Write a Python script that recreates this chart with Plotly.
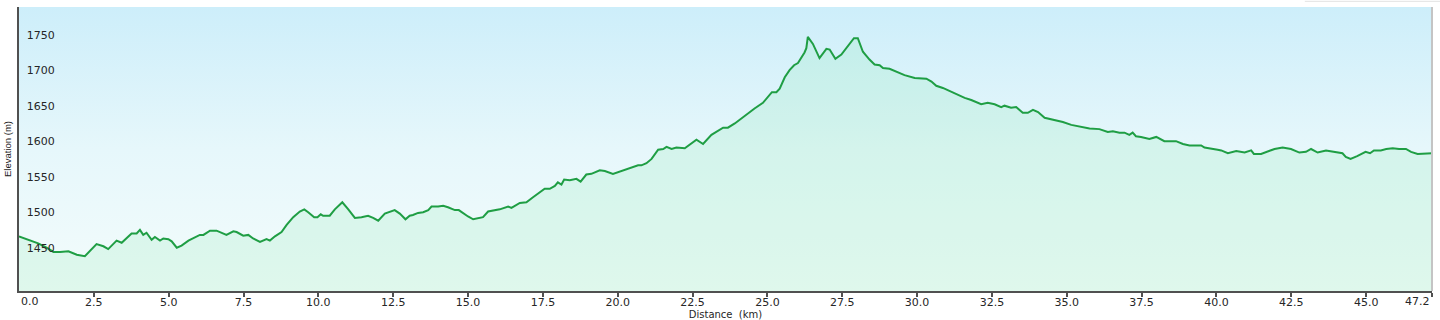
import plotly.graph_objects as go

# ---- data ----
distance_km = [
    0.0, 0.31, 0.64, 0.92, 1.15, 1.37, 1.65, 1.93, 2.2, 2.59, 2.82, 2.98, 3.26, 3.43, 3.76, 3.93,
    4.04, 4.15, 4.26, 4.43, 4.54, 4.71, 4.82, 4.99, 5.1, 5.27, 5.43, 5.66, 5.93, 6.04, 6.16, 6.38,
    6.6, 6.71, 6.93, 7.16, 7.27, 7.49, 7.66, 7.82, 8.05, 8.27, 8.38, 8.55, 8.77, 8.94, 9.16, 9.38,
    9.53, 9.66, 9.86, 9.97, 10.08, 10.16, 10.38, 10.55, 10.8, 11.0, 11.22, 11.44, 11.66, 11.83,
    12.0, 12.22, 12.39, 12.55, 12.72, 12.91, 13.05, 13.16, 13.33, 13.5, 13.67, 13.78, 14.0, 14.17,
    14.33, 14.56, 14.69, 14.84, 15.0, 15.17, 15.34, 15.5, 15.67, 15.84, 16.06, 16.34, 16.45, 16.73,
    16.95, 17.17, 17.4, 17.56, 17.73, 17.9, 18.0, 18.12, 18.21, 18.4, 18.62, 18.76, 18.95, 19.12,
    19.4, 19.57, 19.84, 20.18, 20.46, 20.68, 20.79, 20.96, 21.13, 21.35, 21.52, 21.63, 21.8, 21.96,
    22.24, 22.4, 22.63, 22.85, 23.13, 23.52, 23.68, 23.91, 24.13, 24.35, 24.57, 24.85, 25.02, 25.15,
    25.3, 25.41, 25.58, 25.74, 25.89, 26.02, 26.24, 26.3, 26.35, 26.52, 26.74, 26.97, 27.08, 27.27,
    27.47, 27.69, 27.89, 28.02, 28.19, 28.41, 28.58, 28.75, 28.86, 29.08, 29.58, 29.92, 30.31, 30.48,
    30.64, 30.86, 31.25, 31.59, 31.81, 32.0, 32.14, 32.36, 32.59, 32.81, 32.92, 33.14, 33.31, 33.53,
    33.7, 33.87, 34.04, 34.26, 34.59, 34.87, 35.15, 35.48, 35.76, 36.09, 36.37, 36.54, 36.76, 36.93,
    37.09, 37.2, 37.31, 37.48, 37.76, 37.99, 38.26, 38.65, 38.88, 39.1, 39.49, 39.6, 39.82, 40.04,
    40.16, 40.38, 40.66, 40.94, 41.16, 41.25, 41.49, 41.71, 41.94, 42.21, 42.49, 42.77, 42.99, 43.16,
    43.38, 43.66, 43.94, 44.21, 44.32, 44.48, 44.7, 44.98, 45.13, 45.26, 45.49, 45.67, 45.89, 46.1,
    46.33, 46.5, 46.72, 46.95, 47.2,
]
elevation_m = [
    1477, 1472, 1467, 1461, 1455, 1455, 1456, 1451, 1449, 1466, 1463, 1459, 1471, 1468, 1481, 1481,
    1486, 1479, 1482, 1472, 1476, 1471, 1474, 1473, 1470, 1461, 1464, 1471, 1477, 1479, 1479, 1485,
    1485, 1483, 1479, 1484, 1483, 1478, 1479, 1474, 1469, 1473, 1471, 1477, 1483, 1493, 1504, 1512,
    1515, 1511, 1504, 1504, 1508, 1506, 1506, 1515, 1525, 1515, 1503, 1504, 1506, 1503,
    1499, 1509, 1512, 1514, 1509, 1501, 1506, 1507, 1510, 1511, 1514, 1519, 1519, 1520,
    1518, 1514, 1514, 1509, 1505, 1501, 1503, 1504, 1512, 1513, 1515, 1519, 1517, 1524,
    1525, 1532, 1539, 1544, 1544, 1548, 1553, 1550, 1557, 1556, 1558, 1554, 1564, 1565,
    1570, 1569, 1565, 1570, 1574, 1577, 1577, 1580, 1586, 1599, 1600, 1603, 1600, 1602,
    1601, 1606, 1613, 1607, 1620, 1630, 1630, 1636, 1643, 1651, 1657, 1665, 1673, 1680,
    1680, 1685, 1701, 1711, 1718, 1721, 1736, 1742, 1758, 1748, 1728, 1741, 1740, 1727,
    1733, 1745, 1756, 1756, 1737, 1726, 1719, 1718, 1714, 1713, 1704, 1700, 1699, 1695,
    1689, 1686, 1678, 1672, 1669, 1665, 1663, 1665, 1663, 1659, 1661, 1658, 1659, 1651,
    1651, 1655, 1652, 1644, 1641, 1638, 1634, 1631, 1629, 1628, 1624, 1625, 1623, 1623,
    1620, 1623, 1618, 1617, 1614, 1617, 1611, 1611, 1607, 1605, 1605, 1602, 1601, 1599,
    1598, 1594, 1597, 1595, 1598, 1593, 1593, 1596, 1600, 1602, 1600, 1595, 1596, 1600,
    1595, 1598, 1596, 1594, 1589, 1586, 1590, 1596, 1594, 1598, 1598, 1600, 1601, 1600,
    1600, 1596, 1593, 1593, 1594,
]

x_tick_vals = [0, 2.5, 5, 7.5, 10, 12.5, 15, 17.5, 20, 22.5, 25, 27.5, 30, 32.5, 35, 37.5, 40, 42.5, 45, 47.2]
x_tick_text = ["", "2.5", "5.0", "7.5", "10.0", "12.5", "15.0", "17.5", "20.0", "22.5",
               "25.0", "27.5", "30.0", "32.5", "35.0", "37.5", "40.0", "42.5", "45.0", ""]
x_end_labels = [(0, "0.0", "left"), (47.2, "47.2", "right")]
y_tick_vals = [1450, 1500, 1550, 1600, 1650, 1700, 1750]
y_range = [1400, 1800]
x_range = [0, 47.2]

tick_font = dict(family="DejaVu Sans, Verdana, sans-serif", size=11, color="#262626")
title_font = dict(family="DejaVu Sans, Verdana, sans-serif", size=10, color="#262626")

fig = go.Figure()

# sky gradient background of the plot area
fig.add_trace(go.Scatter(
    x=x_range, y=[y_range[1], y_range[1]],
    mode="lines", line=dict(width=0), fill="tozeroy",
    fillgradient=dict(type="vertical", start=y_range[0], stop=y_range[1],
                      colorscale=[[0, "#f3fcfb"], [0.5, "#e6f7fb"], [1, "#cdeefa"]]),
    hoverinfo="skip", showlegend=False,
))

# elevation profile
fig.add_trace(go.Scatter(
    x=distance_km, y=elevation_m,
    mode="lines", line=dict(color="#1f9e44", width=2),
    fill="tozeroy", fillcolor="rgba(120,232,160,0.16)",
    showlegend=False, name="Elevation",
))

annotations = [
    dict(x=xv, y=0, xref="x", yref="paper", text=txt, showarrow=False,
         xanchor=anchor, yanchor="top", yshift=-2, font=tick_font)
    for xv, txt, anchor in x_end_labels
]

fig.update_layout(
    width=1440, height=320,
    margin=dict(l=19, r=8, t=7, b=29, autoexpand=False),
    paper_bgcolor="white", plot_bgcolor="white",
    xaxis=dict(
        range=x_range, tickvals=x_tick_vals, ticktext=x_tick_text,
        automargin=False,
        showgrid=False, zeroline=False,
        showline=True, linecolor="#505050", linewidth=2,
        ticks="outside", ticklen=4, tickcolor="#505050", tickwidth=1.5,
        ticklabelstandoff=-4,
        tickfont=tick_font,
        title=dict(text="Distance\u00a0\u00a0(km)", font=title_font, standoff=3),
    ),
    yaxis=dict(
        range=y_range, tickvals=y_tick_vals, automargin=False,
        ticklabelposition="inside top", ticklabelstandoff=6,
        showgrid=True, gridcolor="#c6d6dc", gridwidth=1.5,
        zeroline=False,
        showline=True, linecolor="#505050", linewidth=2,
        ticks="", tickfont=tick_font,
        title=dict(text="Elevation (m)",
                   font=dict(family="Liberation Sans Narrow, Arial Narrow, sans-serif", size=9.5, color="#222"),
                   standoff=13),
    ),
    annotations=annotations,
    shapes=[
        dict(type="line", xref="paper", yref="paper", x0=1, x1=1, y0=0, y1=1,
             line=dict(color="#c4c4c4", width=2)),
        dict(type="line", xref="paper", yref="paper", x0=0.91, x1=1.01, y0=1.02, y1=1.02,
             line=dict(color="#e2e2e2", width=1)),
    ],
)

fig.write_html("out.html")
